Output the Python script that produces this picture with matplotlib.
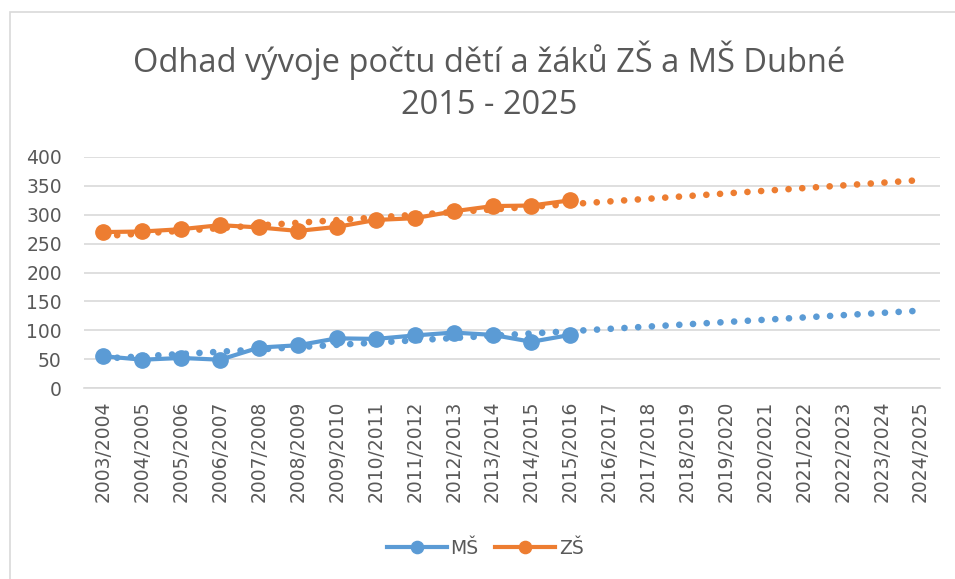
import numpy as np
import matplotlib
matplotlib.use("Agg")
import matplotlib.pyplot as plt
from matplotlib.patches import Rectangle

years = ["2003/2004", "2004/2005", "2005/2006", "2006/2007", "2007/2008", "2008/2009",
         "2009/2010", "2010/2011", "2011/2012", "2012/2013", "2013/2014", "2014/2015",
         "2015/2016", "2016/2017", "2017/2018", "2018/2019", "2019/2020", "2020/2021",
         "2021/2022", "2022/2023", "2023/2024", "2024/2025"]
ms = [55, 49, 52, 49, 70, 74, 86, 85, 91, 96, 92, 80, 92]
zs = [270, 271, 275, 282, 278, 272, 279, 291, 294, 306, 315, 316, 325]
# trendline ends (first and last category)
trend_ms = [51, 134]
trend_zs = [263, 360]

BLUE, ORANGE, GREY, GRID = "#5b9bd5", "#ed7d31", "#595959", "#d9d9d9"

fig = plt.figure(figsize=(9.55, 5.79), dpi=100)
ax = fig.add_axes([84 / 955, 1 - 388 / 579, 856 / 955, 231 / 579])

x = np.arange(len(years))
n = len(ms)
ends = [x[0], x[-1]]
dot = dict(lw=4.8, linestyle=(0, (0.01, 2.05)), dash_capstyle="round", zorder=3)
ax.plot(ends, trend_ms, color=BLUE, **dot)
ax.plot(ends, trend_zs, color=ORANGE, **dot)
ax.plot(x[:n], ms, "-o", color=BLUE, lw=3, ms=11, label="MŠ", zorder=4)
ax.plot(x[:n], zs, "-o", color=ORANGE, lw=3, ms=11, label="ZŠ", zorder=4)

ax.set_xlim(-0.5, len(years) - 0.5)
ax.set_ylim(0, 400)
ax.set_yticks(range(0, 401, 50))
ax.set_xticks(x)
ax.set_xticklabels(years, rotation=90)
ax.tick_params(length=0, labelsize=13.5, labelcolor=GREY)
ax.tick_params(axis="y", pad=16)
ax.tick_params(axis="x", pad=9)
ax.grid(axis="y", color=GRID, lw=1.2)
ax.set_axisbelow(True)
for s in ("top", "right", "left"):
    ax.spines[s].set_visible(False)
ax.spines["bottom"].set_color(GRID)
ax.spines["bottom"].set_linewidth(1.2)

fig.text(0.512, 1 - 81 / 579, "Odhad vývoje počtu dětí a žáků ZŠ a MŠ Dubné\n2015 - 2025",
         ha="center", va="center", fontsize=23.5, color=GREY, family="Open Sans",
         linespacing=1.35)

ax.legend(loc="center", bbox_to_anchor=(0.508, 1 - 548 / 579), bbox_transform=fig.transFigure,
          ncol=2, frameon=False, fontsize=13.5, labelcolor=GREY, handlelength=3.2,
          handletextpad=0.2, columnspacing=0.9, markerscale=0.8)

fig.patches.append(Rectangle((10 / 955, -0.1), 1.2, 1.1 - 12 / 579, transform=fig.transFigure,
                             fill=False, edgecolor=GRID, lw=1.2))

fig.savefig("out.png", dpi=100)
